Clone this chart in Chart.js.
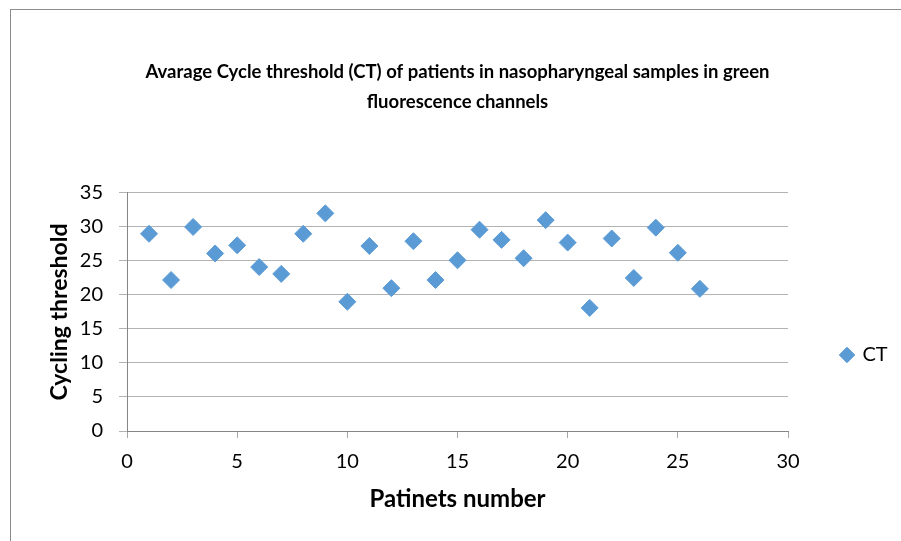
<!DOCTYPE html>
<html>
<head>
<meta charset="utf-8">
<script src="https://cdn.jsdelivr.net/npm/chart.js@4"></script>
<style>
  html, body { margin: 0; padding: 0; background: #ffffff; }
  #wrap { position: relative; width: 901px; height: 541px; }
  #frame { position: absolute; left: 10px; top: 9px; right: 0; bottom: 0;
           border-left: 1px solid #8c8c8c; border-top: 1px solid #8c8c8c; }
  #myChart { position: absolute; left: 0; top: 0; }
</style>
</head>
<body>
<div id="wrap">
  <div id="frame"></div>
  <canvas id="myChart" width="901" height="541"></canvas>
</div>
<script>
// patient number and CT
var pacientes = [1, 2, 3, 4, 5, 6, 7, 8, 9, 10, 11, 12, 13, 14, 15, 16, 17, 18, 19, 20, 21, 22, 23, 24, 25, 26];
var valoresCT = [29.0, 22.2, 30.0, 26.1, 27.3, 24.1, 23.1, 29.0, 32.0, 19.0, 27.2, 21.0, 27.9, 22.2, 25.1, 29.6, 28.1, 25.4, 31.0, 27.7, 18.1, 28.3, 22.5, 29.9, 26.2, 20.9];
var ticksX = [0, 5, 10, 15, 20, 25, 30];
var ticksY = [0, 5, 10, 15, 20, 25, 30, 35];
var tituloLinhas = ['Avarage Cycle threshold (CT) of patients in nasopharyngeal samples in green', 'fluorescence channels'];

var fonte = "Lato, 'Open Sans', sans-serif";

var pontos = pacientes.map(function (p, i) {
    return { x: p, y: valoresCT[i] };
});

const grafico = document.getElementById('myChart');

new Chart(grafico, {
    type: 'scatter',
    data: {
        datasets: [{
            label: 'CT',
            data: pontos,
            backgroundColor: '#5B9BD5',
            borderColor: '#5B9BD5',
            borderWidth: 1,
            pointStyle: 'rectRot',
            pointRadius: 8.5,
            pointHoverRadius: 8.5
        }]
    },
    options: {
        responsive: false,
        animation: false,
        events: [],
        layout: {
            padding: { left: 10, right: 13, top: 0, bottom: 0 }
        },
        plugins: {
            title: {
                display: true,
                fullSize: false,
                text: tituloLinhas,
                color: '#000000',
                font: { family: fonte, size: 18.5, weight: 'bold', lineHeight: 1.62 },
                padding: { top: 57, bottom: 76 }
            },
            legend: {
                display: true,
                position: 'right',
                align: 'center',
                fullSize: false,
                maxWidth: 100,
                title: {
                    display: true,
                    text: ' ',
                    font: { size: 10, lineHeight: 1 },
                    padding: { top: 76, bottom: 0 }
                },
                labels: {
                    usePointStyle: true,
                    boxWidth: 11,
                    boxHeight: 11,
                    padding: 53.5,
                    color: '#000000',
                    font: { family: fonte, size: 20 }
                }
            },
            tooltip: { enabled: false }
        },
        scales: {
            x: {
                type: 'linear',
                min: 0,
                max: 30,
                afterFit: function (scale) { scale.height = 110; },
                afterBuildTicks: function (scale) {
                    scale.ticks = ticksX.map(function (v) { return { value: v }; });
                },
                grid: {
                    drawOnChartArea: false,
                    drawTicks: true,
                    tickLength: 7,
                    color: '#a6a6a6'
                },
                border: { color: '#868686', width: 1 },
                ticks: {
                    color: '#000000',
                    padding: 12,
                    maxRotation: 0,
                    font: { family: fonte, size: 20 }
                },
                title: {
                    display: true,
                    text: 'Patinets number',
                    color: '#000000',
                    font: { family: fonte, size: 24, weight: 'bold', lineHeight: 1.2 },
                    padding: { top: 0, bottom: 27 }
                }
            },
            y: {
                type: 'linear',
                min: 0,
                max: 35,
                afterFit: function (scale) { scale.width = 117; },
                afterBuildTicks: function (scale) {
                    scale.ticks = ticksY.map(function (v) { return { value: v }; });
                },
                grid: {
                    color: '#b3b3b3',
                    drawTicks: true,
                    tickLength: 8
                },
                border: { color: '#868686', width: 1 },
                ticks: {
                    color: '#000000',
                    padding: 16,
                    font: { family: fonte, size: 20 }
                },
                title: {
                    display: true,
                    text: 'Cycling threshold',
                    color: '#000000',
                    font: { family: fonte, size: 23, weight: 'bold', lineHeight: 1.2 },
                    padding: { top: 36, bottom: 0 }
                }
            }
        }
    }
});
</script>
</body>
</html>
